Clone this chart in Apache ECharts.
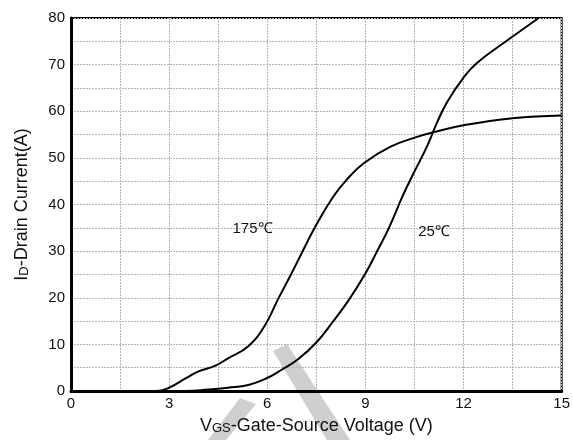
<!DOCTYPE html>
<html>
<head>
<meta charset="utf-8">
<script src="https://cdn.jsdelivr.net/npm/echarts@6/dist/echarts.min.js"></script>
<style>
  html, body { margin: 0; padding: 0; background: #fff; }
  #chart { width: 573px; height: 440px; }
</style>
</head>
<body>
<div id="chart"></div>
<script>
// Transfer characteristics: drain current vs gate-source voltage
const xTicks = [0, 3, 6, 9, 12, 15];
const yTicks = [0, 10, 20, 30, 40, 50, 60, 70, 80];

const vgs175 = [0, 2.6, 3.0, 3.5, 3.9, 4.4, 4.8, 5.42, 5.93, 6.33, 6.74, 7.04, 7.45, 8.0, 8.45, 8.96, 9.77, 10.58, 11.08, 12.0, 13.5, 15.0];
const id175  = [0, 0, 0.7, 2.7, 4.2, 5.4, 7.0, 9.6, 14.1, 19.7, 25.2, 29.4, 35.0, 41.5, 45.5, 48.9, 52.4, 54.5, 55.5, 57.0, 58.5, 59.1];

const vgs25 = [0, 3.5, 4.2, 4.8, 5.42, 6.03, 6.43, 6.94, 7.5, 8.0, 8.5, 9.0, 9.36, 9.72, 10.15, 10.48, 10.88, 11.18, 11.5, 12.0, 12.4, 13.3, 14.3];
const id25  = [0, 0, 0.3, 0.7, 1.3, 2.9, 4.5, 6.8, 10.4, 14.8, 19.6, 25.2, 30.0, 35.0, 42.0, 46.8, 52.4, 57.4, 62.0, 67.2, 70.3, 75.0, 80.0];

const curveLabels = ['175℃', '25℃'];
const labelPos = [[5.55, 34.7], [11.1, 34.2]];

const pairs = (xs, ys) => xs.map((x, i) => [x, ys[i]]);

const chart = echarts.init(document.getElementById('chart'));

const gridLine = { show: true, lineStyle: { color: '#b5b5b5', type: [2, 1], width: 1 } };
const baseFont = 'Liberation Sans, Arial, sans-serif';

function curve(xs, ys, name, pos) {
  return {
    type: 'line',
    name: name,
    data: pairs(xs, ys),
    showSymbol: false,
    smooth: 0.45,
    lineStyle: { color: '#000', width: 2 },
    z: 5,
    markPoint: {
      symbol: 'circle',
      symbolSize: 1,
      itemStyle: { color: 'rgba(0,0,0,0)' },
      label: {
        show: true,
        position: 'inside',
        formatter: name,
        color: '#111',
        fontSize: 15,
        fontFamily: baseFont
      },
      data: [{ coord: pos }]
    }
  };
}

const richName = {
  big: { fontSize: 18, fontFamily: baseFont, color: '#111', verticalAlign: 'bottom', lineHeight: 20 },
  sub: { fontSize: 13, fontFamily: baseFont, color: '#111', verticalAlign: 'bottom', lineHeight: 20 }
};

chart.setOption({
  animation: false,
  backgroundColor: '#fff',
  grid: {
    left: 71, right: 7, top: 18, bottom: 39,
    show: true, borderColor: '#000', borderWidth: 2
  },
  graphic: [
    {
      type: 'polygon', silent: true, z: -1,
      shape: { points: [[273, 351], [287, 344], [350, 440], [327, 440]] },
      style: { fill: '#cfcfcf' }
    },
    {
      type: 'polygon', silent: true, z: -1,
      shape: { points: [[240, 398], [256, 404], [226, 440], [208, 440]] },
      style: { fill: '#cfcfcf' }
    }
  ],
  xAxis: {
    type: 'value',
    min: xTicks[0], max: xTicks[xTicks.length - 1], interval: 1.5,
    axisLine: { show: true, onZero: false, lineStyle: { color: '#000', width: 3 } },
    axisTick: { show: false },
    splitLine: gridLine,
    axisLabel: {
      color: '#111', fontSize: 15, fontFamily: baseFont, margin: 5,
      formatter: v => (xTicks.includes(v) ? String(v) : '')
    },
    name: '{big|V}{sub|GS}{big|-Gate-Source Voltage (V)}',
    nameLocation: 'middle',
    nameGap: 24,
    nameTextStyle: { rich: richName }
  },
  yAxis: {
    type: 'value',
    min: yTicks[0], max: yTicks[yTicks.length - 1], interval: 5,
    axisLine: { show: true, onZero: false, lineStyle: { color: '#000', width: 3 } },
    axisTick: { show: false },
    splitLine: gridLine,
    axisLabel: {
      color: '#111', fontSize: 15, fontFamily: baseFont, margin: 6,
      formatter: v => (yTicks.includes(v) ? String(v) : '')
    },
    name: '{big|I}{sub|D}{big|-Drain Current(A)}',
    nameLocation: 'middle',
    nameGap: 40,
    nameTextStyle: { rich: richName }
  },
  series: [
    curve(vgs175, id175, curveLabels[0], labelPos[0]),
    curve(vgs25, id25, curveLabels[1], labelPos[1])
  ]
});
</script>
</body>
</html>
